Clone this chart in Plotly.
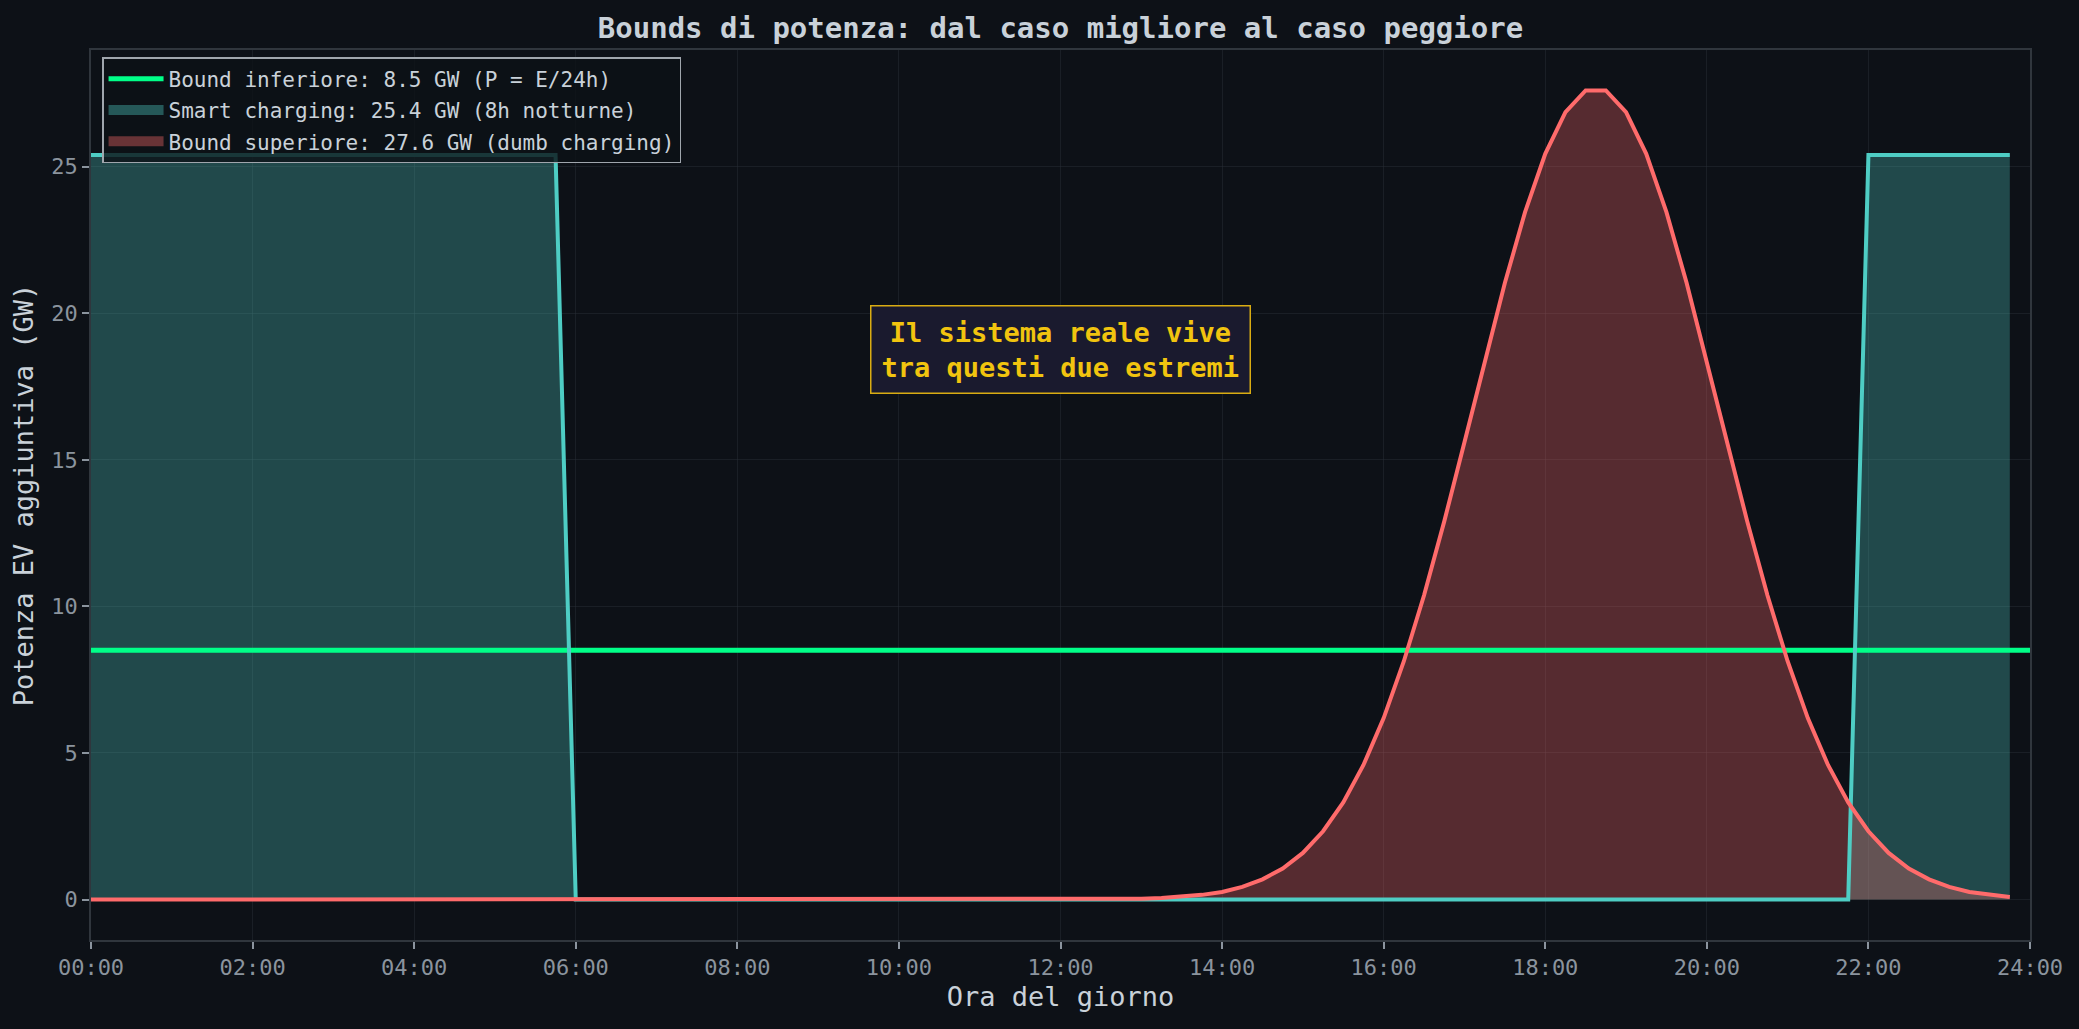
import plotly.graph_objects as go

# ---------------- data ----------------
hours = [
    0.00, 0.25, 0.50, 0.75, 1.00, 1.25, 1.50, 1.75,
    2.00, 2.25, 2.50, 2.75, 3.00, 3.25, 3.50, 3.75,
    4.00, 4.25, 4.50, 4.75, 5.00, 5.25, 5.50, 5.75,
    6.00, 6.25, 6.50, 6.75, 7.00, 7.25, 7.50, 7.75,
    8.00, 8.25, 8.50, 8.75, 9.00, 9.25, 9.50, 9.75,
    10.00, 10.25, 10.50, 10.75, 11.00, 11.25, 11.50, 11.75,
    12.00, 12.25, 12.50, 12.75, 13.00, 13.25, 13.50, 13.75,
    14.00, 14.25, 14.50, 14.75, 15.00, 15.25, 15.50, 15.75,
    16.00, 16.25, 16.50, 16.75, 17.00, 17.25, 17.50, 17.75,
    18.00, 18.25, 18.50, 18.75, 19.00, 19.25, 19.50, 19.75,
    20.00, 20.25, 20.50, 20.75, 21.00, 21.25, 21.50, 21.75,
    22.00, 22.25, 22.50, 22.75, 23.00, 23.25, 23.50, 23.75,
]

smart_gw = [
    25.4, 25.4, 25.4, 25.4, 25.4, 25.4, 25.4, 25.4,
    25.4, 25.4, 25.4, 25.4, 25.4, 25.4, 25.4, 25.4,
    25.4, 25.4, 25.4, 25.4, 25.4, 25.4, 25.4, 25.4,
    0, 0, 0, 0, 0, 0, 0, 0,
    0, 0, 0, 0, 0, 0, 0, 0,
    0, 0, 0, 0, 0, 0, 0, 0,
    0, 0, 0, 0, 0, 0, 0, 0,
    0, 0, 0, 0, 0, 0, 0, 0,
    0, 0, 0, 0, 0, 0, 0, 0,
    0, 0, 0, 0, 0, 0, 0, 0,
    0, 0, 0, 0, 0, 0, 0, 0,
    25.4, 25.4, 25.4, 25.4, 25.4, 25.4, 25.4, 25.4,
]

dumb_gw = [
    0, 0, 0, 0, 0, 0, 0, 0,
    0, 0, 0, 0, 0, 0, 0, 0,
    0, 0, 0, 0, 0, 0, 0, 0,
    0, 0, 0, 0, 0, 0, 0, 0,
    0, 0, 0, 0, 0, 0, 0, 0,
    0, 0, 0, 0, 0, 0, 0, 0,
    0.00, 0.00, 0.01, 0.02, 0.03, 0.05, 0.09, 0.16,
    0.26, 0.43, 0.69, 1.06, 1.59, 2.33, 3.31, 4.59,
    6.19, 8.13, 10.38, 12.90, 15.60, 18.36, 21.03, 23.45,
    25.44, 26.86, 27.60, 27.60, 26.86, 25.44, 23.45, 21.03,
    18.36, 15.60, 12.90, 10.38, 8.13, 6.19, 4.59, 3.31,
    2.33, 1.59, 1.06, 0.69, 0.43, 0.26, 0.16, 0.09,
]

lower_bound_gw = 8.5

tick_hours = [0, 2, 4, 6, 8, 10, 12, 14, 16, 18, 20, 22, 24]
tick_labels = ["00:00", "02:00", "04:00", "06:00", "08:00", "10:00", "12:00",
               "14:00", "16:00", "18:00", "20:00", "22:00", "24:00"]
y_ticks = [0, 5, 10, 15, 20, 25]

label_lower = "Bound inferiore: 8.5 GW (P = E/24h)"
label_smart = "Smart charging: 25.4 GW (8h notturne)"
label_dumb = "Bound superiore: 27.6 GW (dumb charging)"

# ---------------- style ----------------
BG = "#0d1117"
FONT = "DejaVu Sans Mono"
TEAL = "#4ecdc4"
RED = "#ff6b6b"
GREEN = "#00ff88"
TEAL_FILL = "rgba(78,205,196,0.3)"
RED_FILL = "rgba(255,107,107,0.3)"
GRID = "rgba(40,46,54,0.5)"
SPINE = "#30363d"
TICKC = "#8b949e"
TEXTC = "#c9d1d9"

fig = go.Figure()

# filled areas (below lines, like matplotlib collections)
fig.add_trace(go.Scatter(
    x=hours, y=smart_gw, mode="lines", fill="tozeroy",
    fillcolor=TEAL_FILL, line=dict(color=TEAL_FILL, width=1),
    showlegend=False, hoverinfo="skip"))
fig.add_trace(go.Scatter(
    x=hours, y=dumb_gw, mode="lines", fill="tozeroy",
    fillcolor=RED_FILL, line=dict(color=RED_FILL, width=1),
    showlegend=False, hoverinfo="skip"))

# lines
fig.add_trace(go.Scatter(
    x=[tick_hours[0], tick_hours[-1]], y=[lower_bound_gw, lower_bound_gw],
    mode="lines", line=dict(color=GREEN, width=5),
    name=label_lower, legendrank=1, legendgroup="a"))
fig.add_trace(go.Scatter(
    x=hours, y=smart_gw, mode="lines", line=dict(color=TEAL, width=4),
    showlegend=False))
fig.add_trace(go.Scatter(
    x=hours, y=dumb_gw, mode="lines", line=dict(color=RED, width=4),
    showlegend=False))

# legend patches for the filled areas
fig.add_trace(go.Scatter(
    x=[None], y=[None], mode="lines", line=dict(color="rgba(78,205,196,0.38)", width=15),
    name=label_smart, legendrank=2, legendgroup="b"))
fig.add_trace(go.Scatter(
    x=[None], y=[None], mode="lines", line=dict(color="rgba(255,107,107,0.38)", width=15),
    name=label_dumb, legendrank=3, legendgroup="c"))

ymax = max(max(dumb_gw), max(smart_gw), lower_bound_gw)
pad = 0.05 * ymax

fig.add_annotation(
    x=12, y=18.75, xref="x", yref="y",
    text="Il sistema reale vive<br>tra questi due estremi",
    showarrow=False, align="center",
    font=dict(family=FONT, size=27, color="#f1c40f", weight="bold"),
    bgcolor="#1a1a2e", bordercolor="#d9ac12", borderwidth=1.5, borderpad=10)

fig.update_layout(
    width=2079, height=1029,
    paper_bgcolor=BG, plot_bgcolor=BG,
    margin=dict(l=91, r=49, t=50, b=89),
    font=dict(family=FONT, color=TEXTC),
    title=dict(text="Bounds di potenza: dal caso migliore al caso peggiore",
               font=dict(family=FONT, size=29, color=TEXTC, weight="bold"),
               x=0.5, xref="paper", xanchor="center",
               y=0.973, yref="container", yanchor="middle"),
    legend=dict(x=0.0057, y=0.992, xanchor="left", yanchor="top",
                bgcolor="rgba(13,17,23,0.8)", bordercolor="#a0a6ad",
                borderwidth=1.5, itemwidth=55, tracegroupgap=1,
                font=dict(family=FONT, size=21, color=TEXTC)),
    showlegend=True,
)

fig.update_xaxes(
    range=[tick_hours[0], tick_hours[-1]],
    tickmode="array", tickvals=tick_hours, ticktext=tick_labels,
    tickfont=dict(family=FONT, size=22, color=TICKC),
    ticks="outside", ticklen=7, tickwidth=1.5, tickcolor=TICKC,
    showline=True, linecolor=SPINE, linewidth=1.5, mirror=True,
    showgrid=True, gridcolor=GRID, gridwidth=1, zeroline=False,
    layer="above traces",
    title=dict(text="Ora del giorno", font=dict(family=FONT, size=27, color=TEXTC), standoff=8),
)
fig.update_yaxes(
    range=[-pad, ymax + pad],
    tickmode="array", tickvals=y_ticks,
    tickfont=dict(family=FONT, size=22, color=TICKC),
    ticks="outside", ticklen=7, tickwidth=1.5, tickcolor=TICKC,
    showline=True, linecolor=SPINE, linewidth=1.5, mirror=True,
    showgrid=True, gridcolor=GRID, gridwidth=1, zeroline=False,
    layer="above traces",
    title=dict(text="Potenza EV aggiuntiva (GW)", font=dict(family=FONT, size=27, color=TEXTC), standoff=10),
)

fig.write_html(
    "out.html",
    config={"displayModeBar": False},
    post_script=("document.body.style.margin='0';"
                 "document.body.style.padding='0';"
                 "document.body.style.overflow='hidden';"
                 "document.body.style.background='#0d1117';"),
)
